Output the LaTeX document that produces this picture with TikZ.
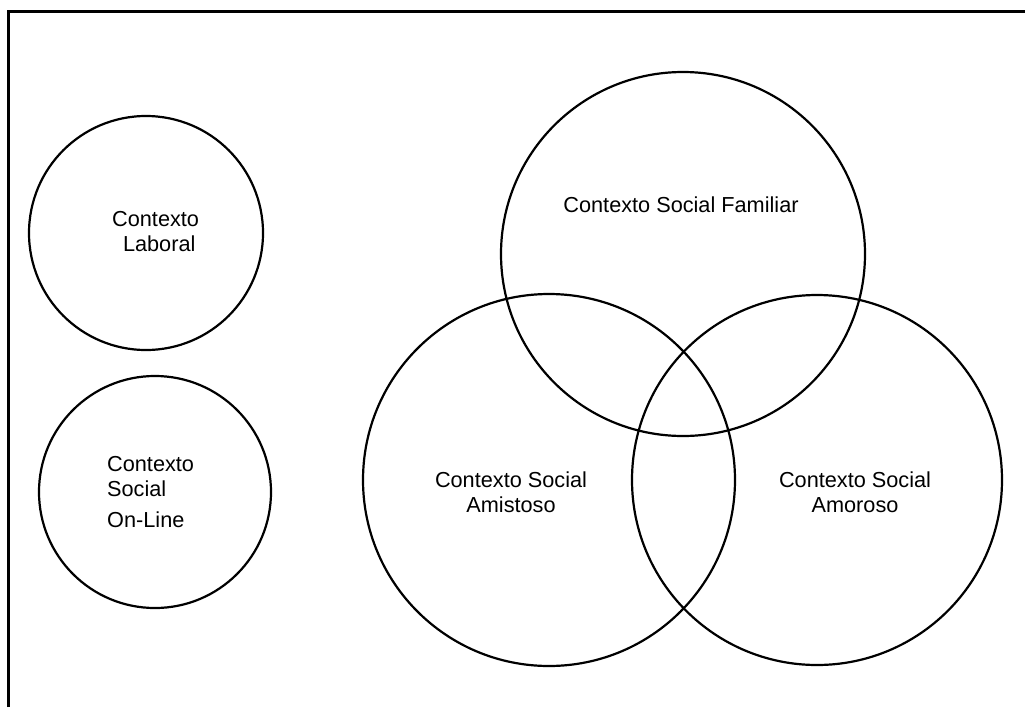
\documentclass[tikz,border=0pt]{standalone}
\usepackage{fontspec}
\setmainfont{Liberation Sans}
\usepackage{tikz}

\begin{document}
\begin{tikzpicture}[inner sep=0pt,
  ring/.style={shape=circle, draw, line width=2.2pt},
  lbl/.style={font=\fontsize{21.7}{25}\selectfont}]
\useasboundingbox (0pt,0pt) rectangle (1025pt,-707pt);
% frame
\coordinate (f0) at (8.5pt,-707pt);
\coordinate (f1) at (8.5pt,-11.5pt);
\coordinate (f2) at (1025pt,-11.5pt);
\path [-,line width=3pt,draw,](f0)--(f1)--(f2);
% circles
\node (n0) [ring, minimum size=234pt, at={(146pt,-233pt)}] {};
\node (n1) [ring, minimum size=232pt, at={(155pt,-492pt)}] {};
\node (n2) [ring, minimum size=364pt, at={(683pt,-254pt)}] {};
\node (n3) [ring, minimum size=372pt, at={(549pt,-480pt)}] {};
\node (n4) [ring, minimum size=370pt, at={(817pt,-480pt)}] {};
% texts
\node (n00) [lbl, anchor=west, align=left, at={(112pt,-232pt)}] {Contexto\\\hspace*{0.5em}Laboral};
\node (n11) [lbl, anchor=west, align=left, at={(107pt,-492.5pt)}] {Contexto\\Social\\[6pt]On-Line};
\node (n22) [lbl, align=center, at={(681pt,-205pt)}] {Contexto Social Familiar};
\node (n33) [lbl, align=center, at={(511pt,-492.5pt)}] {Contexto Social\\Amistoso};
\node (n44) [lbl, align=center, at={(855pt,-492.5pt)}] {Contexto Social\\Amoroso};
\end{tikzpicture}
\end{document}
